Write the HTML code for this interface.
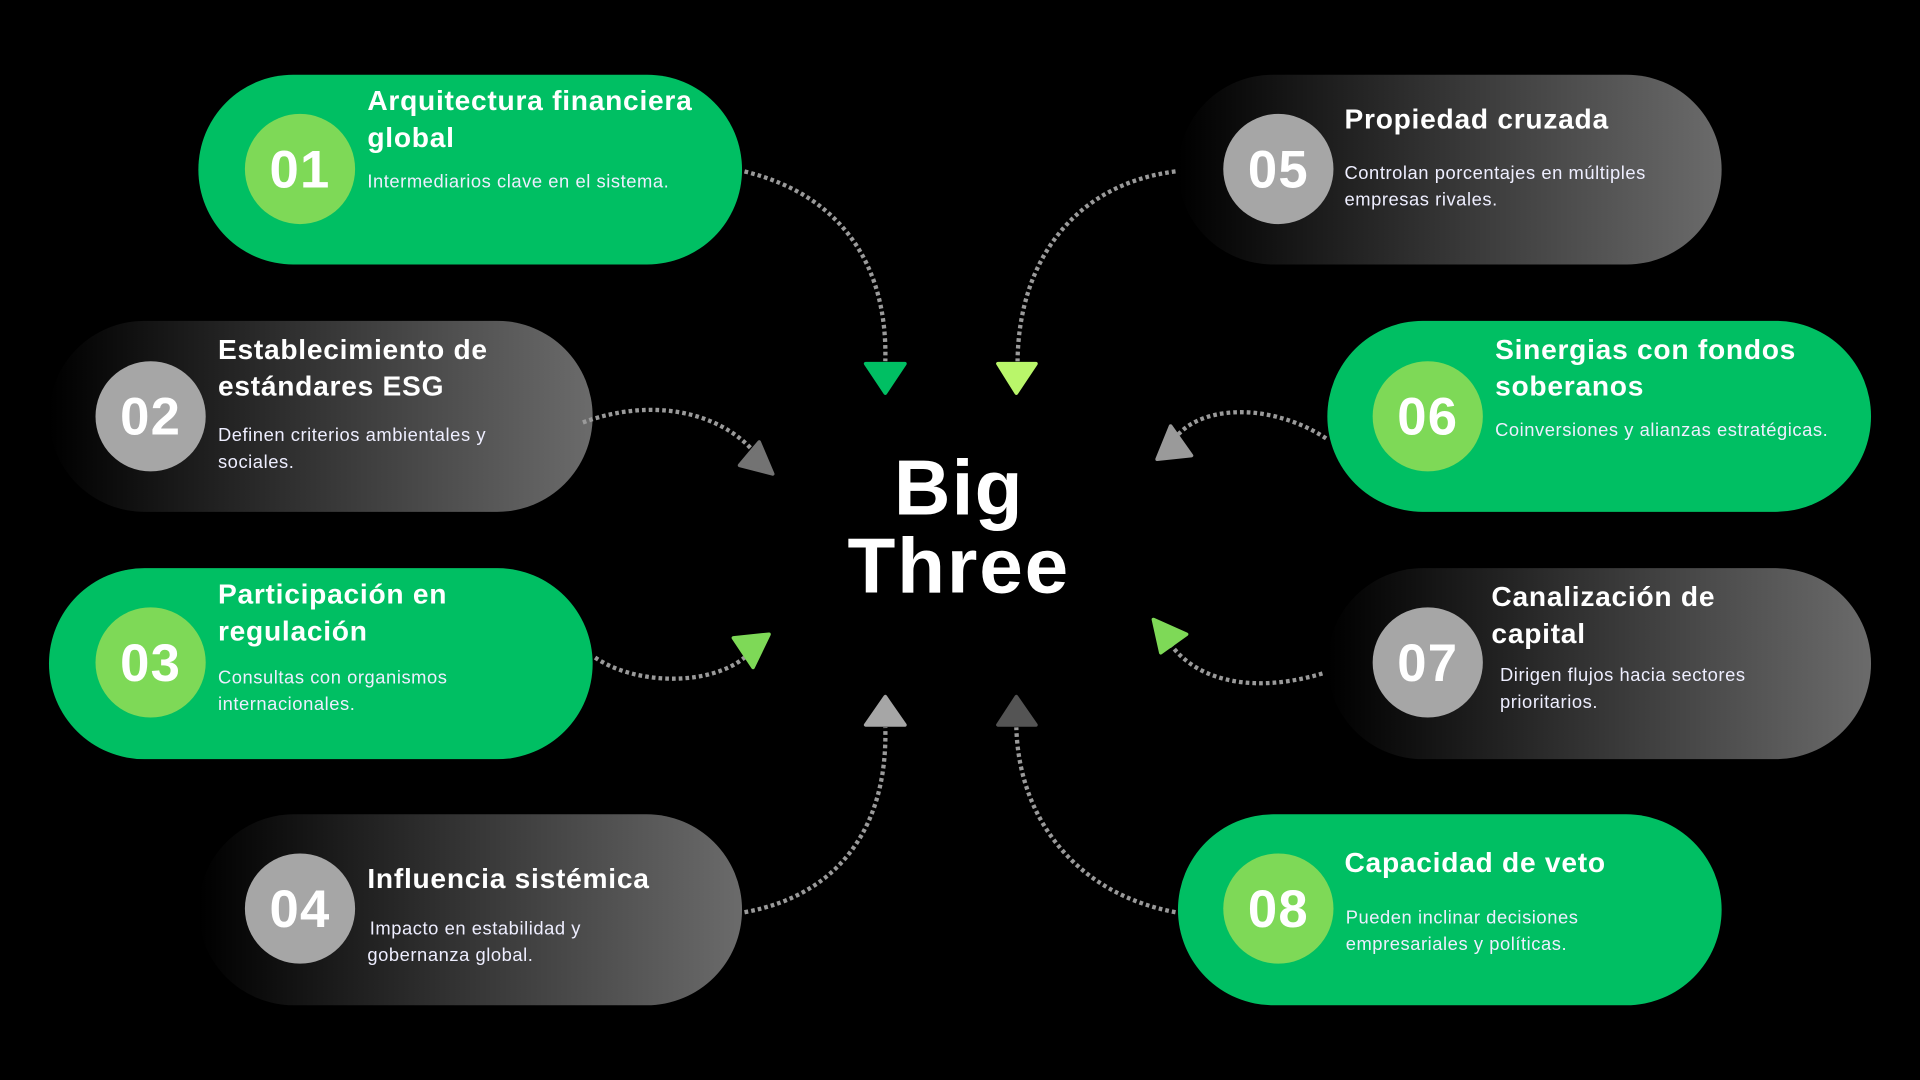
<!DOCTYPE html>
<html><head><meta charset="utf-8"><style>
html,body{margin:0;padding:0;background:#000;width:1920px;height:1080px;overflow:hidden}
svg{display:block}
text{font-family:"Liberation Sans",sans-serif;fill:#fff}
.t{font-weight:bold;font-size:23px;letter-spacing:0.6px}
.d{font-size:15px;fill:#eef;letter-spacing:0.45px}
.n{font-weight:bold;font-size:43px;text-anchor:middle;letter-spacing:1px}
</style></head><body>
<svg width="1920" height="1080" viewBox="0 0 1568 882" xmlns="http://www.w3.org/2000/svg">
<defs>
<linearGradient id="g" x1="0" y1="0" x2="1" y2="0">
<stop offset="0" stop-color="#000"/><stop offset="1" stop-color="#6b6b6b"/>
</linearGradient>
</defs>
<rect width="1568" height="882" fill="#000"/>
<rect x="162" y="61" width="444" height="155" rx="77.5" fill="#00bf63"/>
<rect x="40" y="262" width="444" height="156" rx="78" fill="url(#g)"/>
<rect x="40" y="464" width="444" height="156" rx="78" fill="#00bf63"/>
<rect x="162" y="665" width="444" height="156" rx="78" fill="url(#g)"/>
<rect x="962" y="61" width="444" height="155" rx="77.5" fill="url(#g)"/>
<rect x="1084" y="262" width="444" height="156" rx="78" fill="#00bf63"/>
<rect x="1084" y="464" width="444" height="156" rx="78" fill="url(#g)"/>
<rect x="962" y="665" width="444" height="156" rx="78" fill="#00bf63"/>
<circle cx="245" cy="138" r="45" fill="#7ed957"/>
<circle cx="123" cy="340" r="45" fill="#a6a6a6"/>
<circle cx="123" cy="541" r="45" fill="#7ed957"/>
<circle cx="245" cy="742" r="45" fill="#a6a6a6"/>
<circle cx="1044" cy="138" r="45" fill="#a6a6a6"/>
<circle cx="1166" cy="340" r="45" fill="#7ed957"/>
<circle cx="1166" cy="541" r="45" fill="#a6a6a6"/>
<circle cx="1044" cy="742" r="45" fill="#7ed957"/>
<text class="n" x="245" y="153">01</text>
<text class="n" x="123" y="355">02</text>
<text class="n" x="123" y="556">03</text>
<text class="n" x="245" y="757">04</text>
<text class="n" x="1044" y="153">05</text>
<text class="n" x="1166" y="355">06</text>
<text class="n" x="1166" y="556">07</text>
<text class="n" x="1044" y="757">08</text>
<text class="t" x="300" y="90">Arquitectura financiera</text>
<text class="t" x="300" y="120">global</text>
<text class="d" x="300" y="153">Intermediarios clave en el sistema.</text>
<text class="t" x="178" y="293">Establecimiento de</text>
<text class="t" x="178" y="323">estándares ESG</text>
<text class="d" x="178" y="360">Definen criterios ambientales y</text>
<text class="d" x="178" y="382">sociales.</text>
<text class="t" x="178" y="493">Participación en</text>
<text class="t" x="178" y="523">regulación</text>
<text class="d" x="178" y="558">Consultas con organismos</text>
<text class="d" x="178" y="580">internacionales.</text>
<text class="t" x="300" y="725">Influencia sistémica</text>
<text class="d" x="302" y="763">Impacto en estabilidad y</text>
<text class="d" x="300" y="785">gobernanza global.</text>
<text class="t" x="1098" y="105">Propiedad cruzada</text>
<text class="d" x="1098" y="146">Controlan porcentajes en múltiples</text>
<text class="d" x="1098" y="168">empresas rivales.</text>
<text class="t" x="1221" y="293">Sinergias con fondos</text>
<text class="t" x="1221" y="323">soberanos</text>
<text class="d" x="1221" y="356">Coinversiones y alianzas estratégicas.</text>
<text class="t" x="1218" y="495">Canalización de</text>
<text class="t" x="1218" y="525">capital</text>
<text class="d" x="1225" y="556">Dirigen flujos hacia sectores</text>
<text class="d" x="1225" y="578">prioritarios.</text>
<text class="t" x="1098" y="712">Capacidad de veto</text>
<text class="d" x="1099" y="754">Pueden inclinar decisiones</text>
<text class="d" x="1099" y="776">empresariales y políticas.</text>
<text x="783" y="420" text-anchor="middle" font-weight="bold" font-size="64" letter-spacing="1">Big</text>
<text x="783" y="484" text-anchor="middle" font-weight="bold" font-size="64" letter-spacing="1.5">Three</text>
<g fill="none" stroke="#9a9a9a" stroke-width="3.5" stroke-dasharray="3 2.5">
<path d="M608 140 C690 160 725 220 723 295"/>
<path d="M960 140 C880 150 832 210 831 295"/>
<path d="M476 345 C530 325 585 335 615 368"/>
<path d="M1083 358 C1040 330 985 330 962 355"/>
<path d="M486 537 C520 560 580 560 608 537"/>
<path d="M1080 550 C1030 565 980 560 955 525"/>
<path d="M608 745 C690 730 725 670 723 594"/>
<path d="M960 745 C880 730 832 670 830 594"/>
</g>
<g stroke-linejoin="round" stroke-width="3">
<polygon points="707,297 739,297 723,321" fill="#00bf63" stroke="#00bf63"/>
<polygon points="815,297 846,297 830,321" fill="#b9f66a" stroke="#b9f66a"/>
<polygon points="707,592 739,592 723,569" fill="#a6a6a6" stroke="#a6a6a6"/>
<polygon points="815,592 846,592 830,569" fill="#545454" stroke="#545454"/>
<polygon points="620,361 631,387 604,380" fill="#737373" stroke="#737373"/>
<polygon points="956,348 973,372 945,375" fill="#9a9a9a" stroke="#9a9a9a"/>
<polygon points="599,521 628,518 615,545" fill="#7ed957" stroke="#7ed957"/>
<polygon points="942,506 969,518 948,533" fill="#7ed957" stroke="#7ed957"/>
</g>
</svg>
</body></html>
